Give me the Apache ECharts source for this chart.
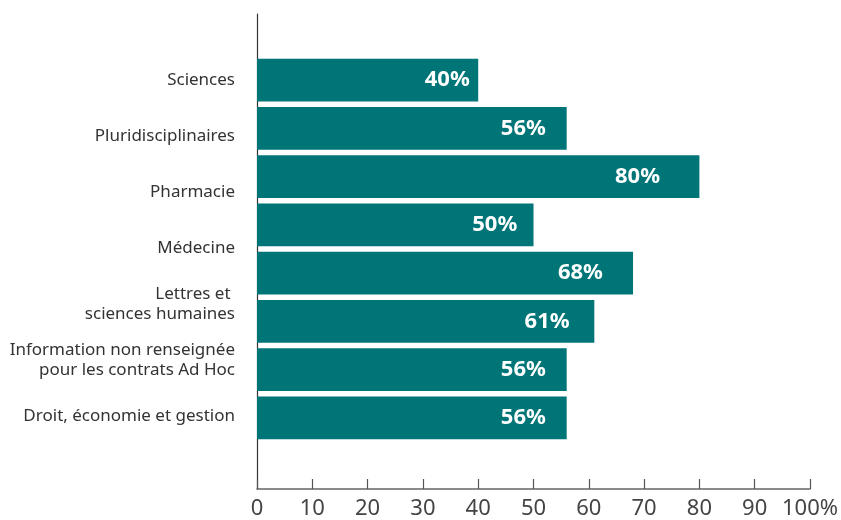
<!DOCTYPE html>
<html><head><meta charset="utf-8">
<script src="https://cdn.jsdelivr.net/npm/echarts@6/dist/echarts.min.js"></script>
<style>html,body{margin:0;padding:0;background:#fff}#c{width:841px;height:520px}</style>
</head><body><div id="c"></div>
<script>
const categoryLabels = ['Sciences','Pluridisciplinaires','Pharmacie','Médecine','Lettres et \nsciences humaines','Information non renseignée\npour les contrats Ad Hoc','Droit, économie et gestion'];
const barValues = [40, 56, 80, 50, 68, 61, 56, 56];
const xTicks = [0,10,20,30,40,50,60,70,80,90,100];

const chart = echarts.init(document.getElementById('c'), null, {renderer:'canvas'});
const font = 'Noto Sans';
chart.setOption({
  animation:false,
  grid:[
    {left:257, right:31, top:14, bottom:30},
    {left:257, right:31, top:56, bottom:78},
    {left:257, right:31, top:52, bottom:76}
  ],
  xAxis:[
    {gridIndex:0, type:'value', min:0, max:100, interval:10,
     axisLine:{show:true, lineStyle:{color:'#666', width:1.5}},
     axisTick:{show:true, inside:true, length:10, lineStyle:{color:'#555', width:1.2}},
     splitLine:{show:false},
     axisLabel:{margin:9, color:'#444', fontSize:22, fontFamily:font,
       formatter:v=> v===100 ? '100%' : String(v)}},
    {gridIndex:1, type:'value', min:0, max:100, show:false},
    {gridIndex:2, type:'value', min:0, max:100, show:false}
  ],
  yAxis:[
    {gridIndex:0, type:'value', min:0, max:1,
     axisLine:{show:true, lineStyle:{color:'#333', width:1.2}},
     axisTick:{show:false}, axisLabel:{show:false}, splitLine:{show:false}},
    {gridIndex:1, type:'category', inverse:true, data:barValues.map((v,i)=>'b'+i), show:false},
    {gridIndex:2, type:'category', inverse:true, data:categoryLabels,
     axisLine:{show:false}, axisTick:{show:false}, splitLine:{show:false},
     axisLabel:{margin:22, color:'#333', fontSize:17, lineHeight:20, fontFamily:font, align:'right'}}
  ],
  series:[{
    type:'bar', xAxisIndex:1, yAxisIndex:1, data:barValues,
    barCategoryGap:'11%',
    itemStyle:{color:'#007577'},
    label:{show:true, position:['86%','50%'], align:'center', verticalAlign:'middle',
      color:'#fff', fontSize:22, fontWeight:'bold', fontFamily:font, formatter:p=>p.value+'%'}
  }]
});
</script></body></html>
